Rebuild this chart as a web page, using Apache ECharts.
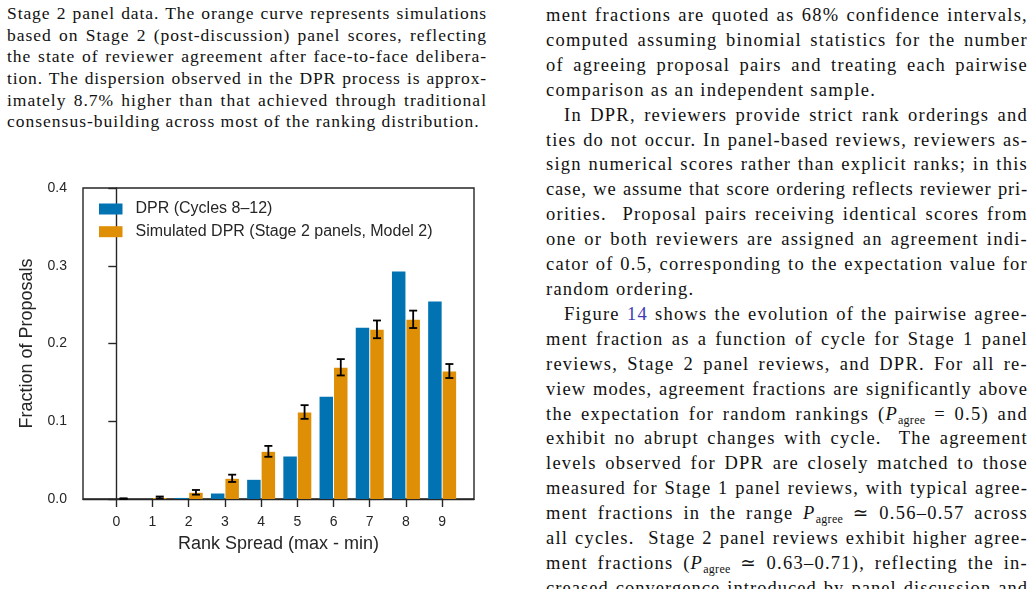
<!DOCTYPE html>
<html>
<head>
<meta charset="utf-8">
<script src="https://cdn.jsdelivr.net/npm/echarts@6/dist/echarts.min.js"></script>
<style>
  html, body { margin: 0; padding: 0; background: #fff; }
  body { width: 1035px; height: 589px; overflow: hidden; position: relative; }
  .col { position: absolute; font-family: "Liberation Serif", "DejaVu Serif", serif; color: #111; }
  .col div { white-space: nowrap; }
  .col .j { text-align: justify; text-align-last: justify; }
  #cap { left: 7px; top: 3px; width: 480px; font-size: 17.5px; line-height: 21.66px; letter-spacing: 1px; }
  #body { left: 546px; top: 3px; width: 482px; font-size: 18.5px; line-height: 24.9px; letter-spacing: 1.25px; }
  .ind { padding-left: 18px; }
  .ref { color: #3b3bb3; }
  sub { font-size: 12px; line-height: 0; vertical-align: -4px; letter-spacing: 0.3px; }
  #main { position: absolute; left: 0; top: 170px; width: 500px; height: 400px; }
</style>
</head>
<body>
<div class="col" id="cap">
  <div class="j">Stage 2 panel data. The orange curve represents simulations</div>
  <div class="j">based on Stage 2 (post-discussion) panel scores, reflecting</div>
  <div class="j">the state of reviewer agreement after face-to-face delibera-</div>
  <div class="j">tion. The dispersion observed in the DPR process is approx-</div>
  <div class="j">imately 8.7% higher than that achieved through traditional</div>
  <div>consensus-building across most of the ranking distribution.</div>
</div>
<div class="col" id="body">
  <div class="j">ment fractions are quoted as 68% confidence intervals,</div>
  <div class="j">computed assuming binomial statistics for the number</div>
  <div class="j">of agreeing proposal pairs and treating each pairwise</div>
  <div>comparison as an independent sample.</div>
  <div class="j ind">In DPR, reviewers provide strict rank orderings and</div>
  <div class="j">ties do not occur. In panel-based reviews, reviewers as-</div>
  <div class="j">sign numerical scores rather than explicit ranks; in this</div>
  <div class="j">case, we assume that score ordering reflects reviewer pri-</div>
  <div class="j">orities. &nbsp;Proposal pairs receiving identical scores from</div>
  <div class="j">one or both reviewers are assigned an agreement indi-</div>
  <div class="j">cator of 0.5, corresponding to the expectation value for</div>
  <div>random ordering.</div>
  <div class="j ind">Figure <span class="ref">14</span> shows the evolution of the pairwise agree-</div>
  <div class="j">ment fraction as a function of cycle for Stage 1 panel</div>
  <div class="j">reviews, Stage 2 panel reviews, and DPR. For all re-</div>
  <div class="j">view modes, agreement fractions are significantly above</div>
  <div class="j">the expectation for random rankings (<i>P</i><sub>agree</sub> = 0.5) and</div>
  <div class="j">exhibit no abrupt changes with cycle. &nbsp;The agreement</div>
  <div class="j">levels observed for DPR are closely matched to those</div>
  <div class="j">measured for Stage 1 panel reviews, with typical agree-</div>
  <div class="j">ment fractions in the range <i>P</i><sub>agree</sub> &#8771; 0.56&#8211;0.57 across</div>
  <div class="j">all cycles. &nbsp;Stage 2 panel reviews exhibit higher agree-</div>
  <div class="j">ment fractions (<i>P</i><sub>agree</sub> &#8771; 0.63&#8211;0.71), reflecting the in-</div>
  <div class="j">creased convergence introduced by panel discussion and</div>
</div>
<div id="main"></div>
<script>
// squeeze justified lines that are too long for their column
document.querySelectorAll('.col .j').forEach(function (el) {
  var target = el.clientWidth - (parseFloat(getComputedStyle(el).paddingLeft) || 0);
  var ls = parseFloat(getComputedStyle(el).letterSpacing) || 0;
  var n = el.textContent.length;
  el.style.display = 'inline-block';
  el.style.width = 'auto';
  el.style.textAlignLast = 'left';
  var natural = el.getBoundingClientRect().width - (parseFloat(getComputedStyle(el).paddingLeft) || 0);
  el.style.display = '';
  el.style.width = '';
  el.style.textAlignLast = '';
  if (natural > target - 4) {
    el.style.letterSpacing = (ls - (natural - target + 8) / n) + 'px';
  }
});

// rank spread (max - min)
var spreads = [0, 1, 2, 3, 4, 5, 6, 7, 8, 9];
// DPR cycles 8-12
var dprFrac = [0, 0, 0.002, 0.0077, 0.0253, 0.0553, 0.1321, 0.2208, 0.2932, 0.2547];
// simulated DPR from stage 2 panels (model 2)
var simFrac = [0.0005, 0.002, 0.0086, 0.0266, 0.0613, 0.1119, 0.1694, 0.2182, 0.2311, 0.1646];
var simErr = [0.0004, 0.0012, 0.003, 0.0047, 0.007, 0.0088, 0.0105, 0.0114, 0.0112, 0.009];

var blue = '#0173b2';
var orange = '#de8f05';
var ink = '#262626';
var font = '"Liberation Sans", Arial, sans-serif';

var chart = echarts.init(document.getElementById('main'));

function barRender(offset) {
  return function (params, api) {
    var x = api.value(0);
    var y = api.value(1);
    var p0 = api.coord([x + offset, y]);
    var p1 = api.coord([x + offset + 0.4, 0]);
    var h = p1[1] - p0[1] - 0.5;
    if (h <= 0) return null;
    // white bar edge: leave a half pixel gap on the sides and top
    return {
      type: 'rect',
      shape: { x: p0[0] + 0.5, y: p0[1] + 0.5, width: p1[0] - p0[0] - 1, height: h },
      style: { fill: api.visual('color') }
    };
  };
}

function errRender(params, api) {
  var x = api.value(0) + 0.2;
  var lo = api.coord([x, api.value(1)]);
  var hi = api.coord([x, api.value(2)]);
  var cap = 4;
  var st = { stroke: '#000', lineWidth: 1.8 };
  return {
    type: 'group',
    children: [
      { type: 'line', shape: { x1: lo[0], y1: lo[1], x2: hi[0], y2: hi[1] }, style: st },
      { type: 'line', shape: { x1: lo[0] - cap, y1: lo[1], x2: lo[0] + cap, y2: lo[1] }, style: st },
      { type: 'line', shape: { x1: hi[0] - cap, y1: hi[1], x2: hi[0] + cap, y2: hi[1] }, style: st }
    ]
  };
}

var option = {
  animation: false,
  grid: {
    left: 83, top: 18, width: 391, height: 311,
    show: true, borderColor: ink, borderWidth: 1.4,
    outerBoundsMode: 'none'
  },
  legend: {
    data: ['DPR (Cycles 8\u201312)', 'Simulated DPR (Stage 2 panels, Model 2)'],
    orient: 'vertical',
    left: 94, top: 25,
    icon: 'rect',
    itemWidth: 23.5, itemHeight: 11,
    itemGap: 4.7,
    textStyle: { fontFamily: font, fontSize: 16, color: ink, lineHeight: 18, padding: [0, 0, 0, 8] }
  },
  xAxis: {
    type: 'value',
    min: -0.92, max: 9.88,
    name: 'Rank Spread (max - min)',
    nameLocation: 'middle',
    nameGap: 36,
    nameTextStyle: { fontFamily: font, fontSize: 18, color: ink },
    axisLine: { show: true, lineStyle: { color: ink, width: 1.4 } },
    axisTick: { show: true, length: 8, lineStyle: { color: ink, width: 1.4 }, customValues: spreads },
    axisLabel: { fontFamily: font, fontSize: 14, color: ink, margin: 16, customValues: spreads },
    splitLine: { show: false }
  },
  yAxis: {
    type: 'value',
    min: 0, max: 0.4, interval: 0.1,
    name: 'Fraction of Proposals',
    nameLocation: 'middle',
    nameGap: 47,
    nameTextStyle: { fontFamily: font, fontSize: 18, color: ink },
    axisLine: { show: true, lineStyle: { color: ink, width: 1.4 } },
    axisTick: { show: true, length: 8, lineStyle: { color: ink, width: 1.4 } },
    axisLabel: {
      fontFamily: font, fontSize: 14, color: ink, margin: 16,
      formatter: function (v) { return v.toFixed(1); }
    },
    splitLine: { show: false }
  },
  series: [
    {
      name: 'DPR (Cycles 8\u201312)',
      type: 'custom',
      itemStyle: { color: blue },
      renderItem: barRender(-0.4),
      encode: { x: 0, y: 1 },
      data: spreads.map(function (s, i) { return [s, dprFrac[i]]; })
    },
    {
      name: 'Simulated DPR (Stage 2 panels, Model 2)',
      type: 'custom',
      itemStyle: { color: orange },
      renderItem: barRender(0),
      encode: { x: 0, y: 1 },
      data: spreads.map(function (s, i) { return [s, simFrac[i]]; })
    },
    {
      name: 'err',
      type: 'custom',
      renderItem: errRender,
      encode: { x: 0, y: [1, 2] },
      z: 5,
      data: spreads.map(function (s, i) { return [s, simFrac[i] - simErr[i], simFrac[i] + simErr[i]]; })
    }
  ]
};

chart.setOption(option);
</script>
</body>
</html>
